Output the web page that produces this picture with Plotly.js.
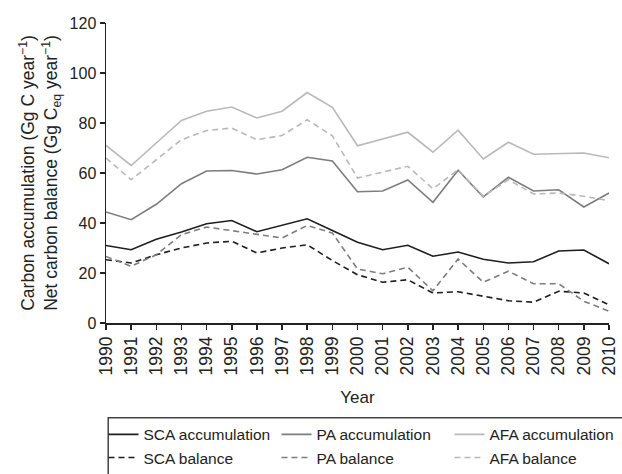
<!DOCTYPE html>
<html>
<head>
<meta charset="utf-8">
<script src="https://cdn.plot.ly/plotly-3.0.1.min.js"></script>
<style>
html,body{margin:0;padding:0;background:#fff;}
#chart{width:622px;height:474px;}
</style>
</head>
<body>
<div id="chart"></div>
<script>
var years = [1990,1991,1992,1993,1994,1995,1996,1997,1998,1999,2000,2001,2002,2003,2004,2005,2006,2007,2008,2009,2010];
var scaAccumulation = [31, 29.3, 33.5, 36.4, 39.7, 41, 36.5, 39.2, 41.7, 37, 32.3, 29.3, 31.1, 26.7, 28.4, 25.5, 24, 24.5, 28.8, 29.2, 23.7];
var paAccumulation  = [44.4, 41.3, 47.5, 55.7, 60.8, 61, 59.6, 61.3, 66.3, 64.8, 52.5, 52.8, 57.2, 48.3, 61.1, 50.4, 58.3, 52.8, 53.3, 46.4, 52];
var afaAccumulation = [71, 63, 72, 81, 84.7, 86.4, 82, 84.7, 92.2, 86.3, 70.9, 73.6, 76.3, 68.3, 77.1, 65.6, 72.3, 67.5, 67.7, 68, 66.1];
var scaBalance = [25.3, 24, 27.3, 30, 32, 32.7, 28, 30, 31.3, 25, 19.3, 16.3, 17.3, 12, 12.5, 10.7, 8.9, 8.3, 12.7, 12, 7.3];
var paBalance  = [26.6, 22.7, 27.3, 35.3, 38.4, 37, 35.3, 34, 39, 36, 21.6, 19.7, 22.3, 12.9, 25.6, 16.3, 20.7, 15.7, 15.7, 8.7, 4.7];
var afaBalance = [66, 57.3, 65.3, 73.3, 77, 78, 73.3, 75, 81.3, 74.9, 58, 60.3, 62.7, 53.7, 61.3, 50.7, 57.3, 51.6, 52, 50.7, 48.9];
var seriesNames = ['SCA accumulation','PA accumulation','AFA accumulation','SCA balance','PA balance','AFA balance'];
var yTickVals = [0,20,40,60,80,100,120];

var FONT = '"Liberation Sans", Arial, sans-serif';
var TXT = '#222';
var cSCA = '#1e1e1e', cPA = '#7d7d7d', cAFA = '#b9b9b9';
var dash = '6px,4px';

function tr(y, name, color, d) {
  return {x: years, y: y, name: name, type: 'scatter', mode: 'lines',
          line: {color: color, width: 1.6, dash: d}};
}
var data = [
  tr(scaAccumulation, seriesNames[0], cSCA, 'solid'),
  tr(paAccumulation,  seriesNames[1], cPA,  'solid'),
  tr(afaAccumulation, seriesNames[2], cAFA, 'solid'),
  tr(scaBalance, seriesNames[3], cSCA, dash),
  tr(paBalance,  seriesNames[4], cPA,  dash),
  tr(afaBalance, seriesNames[5], cAFA, dash)
];

var layout = {
  width: 622, height: 474,
  margin: {l: 105.5, r: 12.5, t: 23.3, b: 150.7, pad: 0, autoexpand: false},
  paper_bgcolor: '#fff', plot_bgcolor: '#fff',
  font: {family: FONT, size: 16, color: TXT},
  showlegend: true,
  legend: {
    orientation: 'h', x: -0.005, xanchor: 'left', y: -0.316, yanchor: 'top',
    borderwidth: 0, bgcolor: 'rgba(0,0,0,0)',
    font: {family: FONT, size: 15.5, color: TXT},
    entrywidth: 128, entrywidthmode: 'pixels', itemwidth: 30, traceorder: 'normal'
  },
  shapes: [{
    type: 'rect', xref: 'paper', yref: 'paper',
    x0: 0.0044, x1: 1.1, y0: -0.3157, y1: -0.62,
    line: {color: '#444', width: 1.5}, fillcolor: 'rgba(0,0,0,0)', layer: 'below'
  }],
  xaxis: {
    range: [1990, 2010], tickmode: 'array', tickvals: years, ticktext: years.map(String),
    tickangle: -90, ticks: 'outside', ticklen: 5, tickwidth: 1.5, tickcolor: TXT,
    showline: true, linecolor: TXT, linewidth: 1.5, showgrid: false, zeroline: false,
    tickfont: {family: FONT, size: 17.5, color: TXT},
    title: {text: 'Year', font: {family: FONT, size: 17, color: TXT}, standoff: 16},
    automargin: false
  },
  yaxis: {
    range: [0, 120], tickmode: 'array', tickvals: yTickVals,
    ticks: 'outside', ticklen: 5, tickwidth: 1.5, tickcolor: TXT,
    showline: true, linecolor: TXT, linewidth: 1.5, showgrid: false, zeroline: false,
    tickfont: {family: FONT, size: 16, color: TXT},
    title: {text: 'Carbon accumulation (Gg C year<sup>\u22121</sup>)<br>Net carbon balance (Gg C<sub>eq</sub> year<sup>\u22121</sup>)',
            font: {family: FONT, size: 17.5, color: TXT}, standoff: 7},
    automargin: false
  }
};

Plotly.newPlot('chart', data, layout, {displayModeBar: false, staticPlot: true});
</script>
</body>
</html>
